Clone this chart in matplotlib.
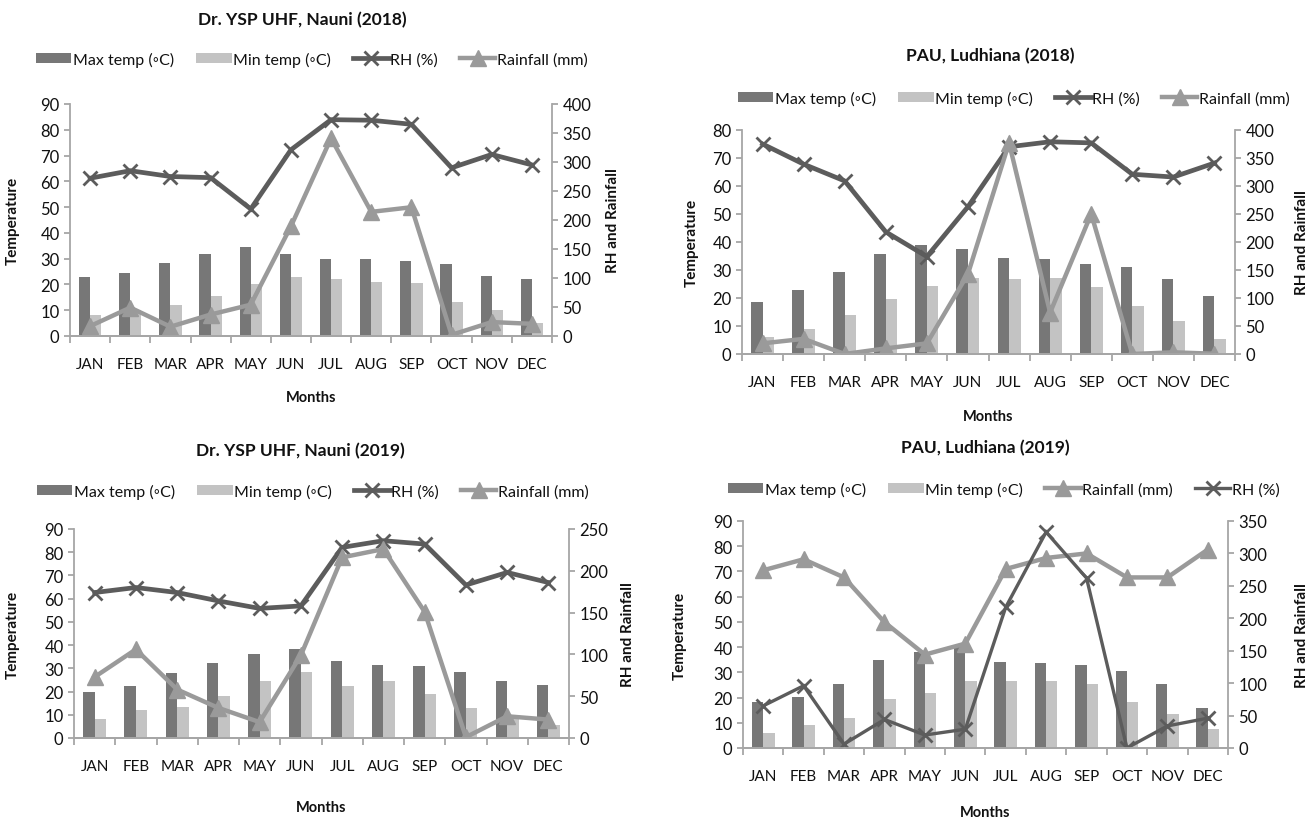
import matplotlib.pyplot as plt
import numpy as np

plt.rcParams['font.family'] = ['Lato', 'DejaVu Sans']

months = ['JAN', 'FEB', 'MAR', 'APR', 'MAY', 'JUN', 'JUL', 'AUG', 'SEP', 'OCT', 'NOV', 'DEC']

# Dr. YSP UHF, Nauni 2018
nauni18_max = [23, 24.5, 28.5, 32, 34.7, 32, 30, 30, 29, 28, 23.3, 22.3]
nauni18_min = [8, 10, 12, 15.5, 20, 23, 22, 21, 20.5, 13, 10, 5]
nauni18_rh = [272, 285, 275, 273, 219, 321, 373, 372, 365, 290, 313, 295]
nauni18_rain = [17, 49, 16, 37, 54, 189, 341, 214, 222, 2, 24, 21]

# PAU, Ludhiana 2018
ldh18_max = [18.5, 22.8, 29.2, 35.8, 39, 37.6, 34.2, 34, 32, 31.2, 26.7, 20.6]
ldh18_min = [6, 9, 13.8, 19.8, 24.2, 27.2, 26.7, 27.2, 24, 17.2, 11.8, 5.4]
ldh18_rh = [375, 339, 309, 218, 174, 263, 370, 379, 377, 321, 316, 341]
ldh18_rain = [19, 27, 0, 10, 19, 143, 377, 74, 250, 0, 3, 0.5]

# Dr. YSP UHF, Nauni 2019
nauni19_max = [20, 22.5, 28, 32.5, 36, 38.2, 33.2, 31.5, 31, 28.5, 24.5, 23]
nauni19_min = [8, 12, 13.5, 18, 24.5, 28.5, 22.2, 24.5, 19, 13, 10, 5.5]
nauni19_rh = [174, 180, 174, 164, 155, 158, 228, 236, 232, 183, 198, 186]
nauni19_rain = [73, 106, 58, 36, 19, 99, 216, 226, 151, 1, 26, 22]

# PAU, Ludhiana 2019
ldh19_max = [18.3, 20.2, 25.3, 35, 38, 40.5, 34, 33.8, 33, 30.5, 25.5, 15.8]
ldh19_min = [6, 9.2, 11.8, 19.5, 22, 26.7, 26.5, 26.7, 25.3, 18.3, 13.3, 7.5]
ldh19_rain = [274, 291, 263, 194, 144, 161, 276, 293, 300, 263, 263, 306]
ldh19_rh = [65, 96, 6, 44, 20, 29, 217, 333, 262, 0, 34, 46]

W, H = 1315, 820
fig = plt.figure(figsize=(W / 100, H / 100), dpi=100)

MAX_C = '#777777'
MIN_C = '#c3c3c3'
RH_C = '#5c5c5c'
RAIN_C = '#9a9a9a'
AX_C = '#a6a6a6'
TXT_C = '#111111'


def box(l, t, r, b):
    return [l / W, 1 - b / H, (r - l) / W, (b - t) / H]


def panel(rect, title, tmax, tmin, rh, rain, tlim, rlim, order,
          title_xy, leg_xy, months_y, temp_x, rhlab_x, rh_lw=3.4):
    ax = fig.add_axes(box(*rect))
    x = np.arange(len(months))
    w = 0.28
    b1 = ax.bar(x - w / 2, tmax, w, color=MAX_C, label='Max temp (◦C)', zorder=2)
    b2 = ax.bar(x + w / 2, tmin, w, color=MIN_C, label='Min temp (◦C)', zorder=2)
    ax.set_xlim(-0.5, 11.5)
    ax.set_ylim(*tlim)
    ax.set_yticks(np.arange(0, tlim[1] + 1, 10))

    ax2 = ax.twinx()
    lines = {}
    for key in order:
        if key == 'rh':
            lines[key], = ax2.plot(x, rh, color=RH_C, lw=rh_lw, marker='x', ms=10,
                                   mew=2, label='RH (%)', solid_joinstyle='miter')
        else:
            lines[key], = ax2.plot(x, rain, color=RAIN_C, lw=3.2, marker='^', ms=11,
                                   label='Rainfall (mm)', solid_joinstyle='miter')
    ax2.set_ylim(*rlim)
    ax2.set_yticks(np.arange(0, rlim[1] + 1, 50))

    for a in (ax, ax2):
        for s in a.spines.values():
            s.set_color(AX_C)
            s.set_linewidth(1.3)
        a.spines['top'].set_visible(False)
        a.tick_params(axis='y', colors=AX_C, labelcolor=TXT_C, labelsize=12, length=4, width=1.3)
    ax2.spines['left'].set_visible(False)
    ax.spines['right'].set_visible(False)

    ax.set_xticks(x)
    ax.set_xticklabels(months, fontsize=11, color=TXT_C)
    ax.tick_params(axis='x', length=0, pad=15)
    ax.set_xticks(np.arange(-0.5, 12, 1), minor=True)
    ax.tick_params(axis='x', which='minor', length=5, width=1.3, color=AX_C)

    fig.text(title_xy[0] / W, 1 - title_xy[1] / H, title, ha='center', va='center',
             fontsize=12.5, fontweight='bold', color=TXT_C)
    cx = (rect[0] + rect[2]) / 2
    fig.text(cx / W, 1 - months_y / H, 'Months', ha='center', va='center',
             fontsize=10.5, fontweight='bold', color=TXT_C)
    mid = 1 - (rect[1] + rect[3]) / 2 / H
    fig.text(temp_x / W, mid, 'Temperature', rotation=90, ha='center', va='center',
             fontsize=11, fontweight='bold', color=TXT_C)
    fig.text(rhlab_x / W, mid, 'RH and Rainfall', rotation=90, ha='center', va='center',
             fontsize=11, fontweight='bold', color=TXT_C)

    handles = [b1, b2] + [lines[k] for k in order]
    fig.legend(handles=handles, loc='center', ncol=4, frameon=False,
               bbox_to_anchor=(leg_xy[0] / W, 1 - leg_xy[1] / H),
               fontsize=11.5, handlelength=2.2, handleheight=0.6,
               handletextpad=0.1, columnspacing=1.4, labelcolor=TXT_C)
    return ax, ax2


panel((70, 105, 552, 337), 'Dr. YSP UHF, Nauni (2018)', nauni18_max, nauni18_min,
      nauni18_rh, nauni18_rain, (0, 90), (0, 400), ['rh', 'rain'],
      (302, 20), (312, 60), 398, 13, 613)

panel((742, 131, 1235, 355), 'PAU, Ludhiana (2018)', ldh18_max, ldh18_min,
      ldh18_rh, ldh18_rain, (0, 80), (0, 400), ['rh', 'rain'],
      (990, 56), (1014, 99), 417, 692, 1302)

panel((74, 530, 569, 739), 'Dr. YSP UHF, Nauni (2019)', nauni19_max, nauni19_min,
      nauni19_rh, nauni19_rain, (0, 90), (0, 250), ['rh', 'rain'],
      (300, 451), (313, 492), 808, 13, 628)

panel((743, 522, 1228, 749), 'PAU, Ludhiana (2019)', ldh19_max, ldh19_min,
      ldh19_rh, ldh19_rain, (0, 90), (0, 350), ['rain', 'rh'],
      (985, 448), (1004, 490), 813, 680, 1302, rh_lw=2.4)

fig.savefig('out.png', dpi=100)
